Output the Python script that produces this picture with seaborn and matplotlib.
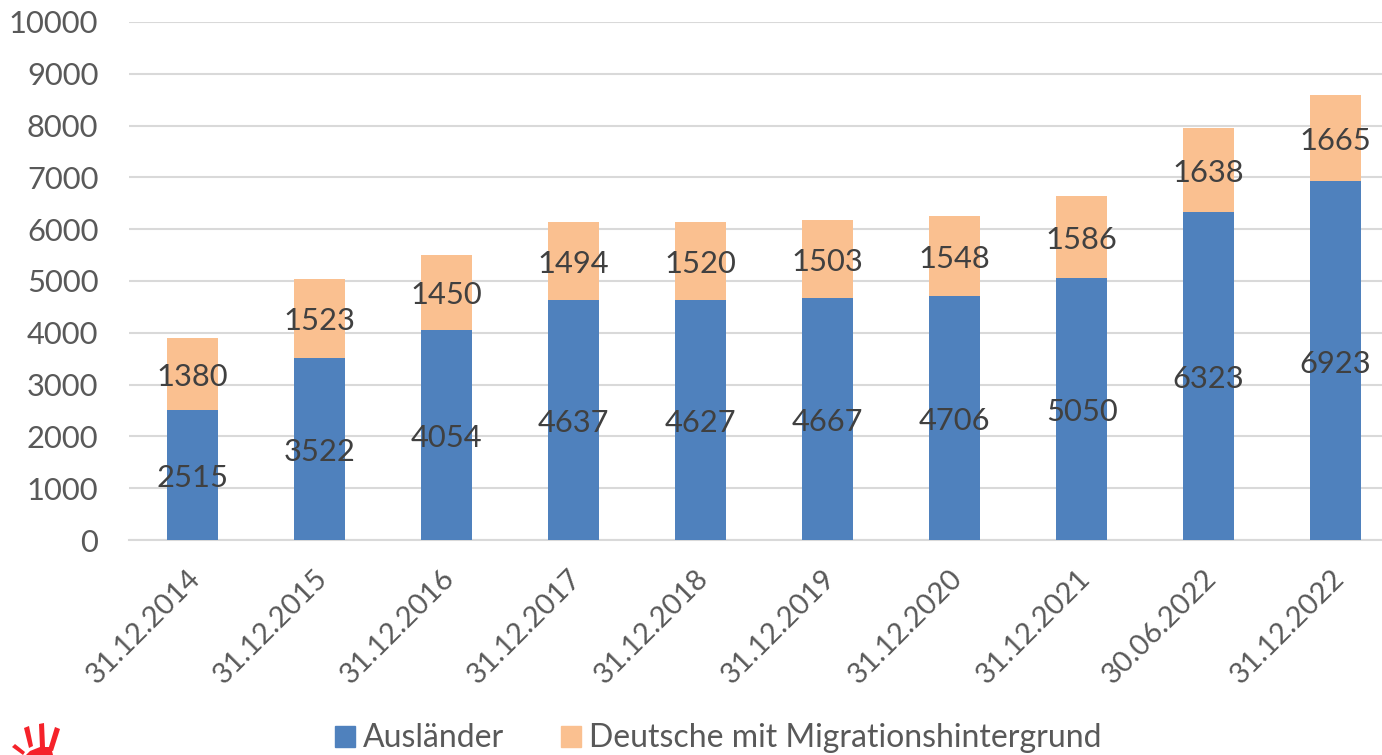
import seaborn as sns
import pandas as pd
import matplotlib.pyplot as plt
from matplotlib.patches import Patch, Polygon
from matplotlib.transforms import ScaledTranslation

daten = ["31.12.2014", "31.12.2015", "31.12.2016", "31.12.2017", "31.12.2018",
         "31.12.2019", "31.12.2020", "31.12.2021", "30.06.2022", "31.12.2022"]
auslaender = [2515, 3522, 4054, 4637, 4627, 4667, 4706, 5050, 6323, 6923]
deutsche = [1380, 1523, 1450, 1494, 1520, 1503, 1548, 1586, 1638, 1665]
y_ticks = [0, 1000, 2000, 3000, 4000, 5000, 6000, 7000, 8000, 9000, 10000]

BLAU = "#4f81bd"
ORANGE = "#fac090"
TEXT = "#404040"
GRAU = "#595959"
ROT = "#f5222a"

sns.set_theme(style="white")
plt.rcParams["font.family"] = ["Lato", "DejaVu Sans"]

df = pd.DataFrame({"Datum": daten, "Ausländer": auslaender, "Deutsche": deutsche})
df["Summe"] = df["Ausländer"] + df["Deutsche"]

fig = plt.figure(figsize=(13.82, 7.55), dpi=100)
ax = fig.add_axes([129 / 1382, 1 - 540 / 755, (1382 - 129) / 1382, (540 - 22) / 755])

# Summe hinten, Ausländer davor -> gestapelt
sns.barplot(data=df, x="Datum", y="Summe", color=ORANGE, saturation=1, width=0.4, linewidth=0, ax=ax, zorder=2)
sns.barplot(data=df, x="Datum", y="Ausländer", color=BLAU, saturation=1, width=0.4, linewidth=0, ax=ax, zorder=3)

for i in range(len(daten)):
    ax.annotate(str(auslaender[i]), (i, auslaender[i] / 2), xytext=(0, -3), textcoords="offset pixels",
                ha="center", va="center", fontsize=22.2, color=TEXT, zorder=5)
    ax.annotate(str(deutsche[i]), (i, auslaender[i] + deutsche[i] / 2), xytext=(0, -3), textcoords="offset pixels",
                ha="center", va="center", fontsize=22.2, color=TEXT, zorder=5)

ax.set_xlim(-0.5, 9.365)
ax.set_ylim(0, 10000)
ax.set_yticks(y_ticks)
ax.set_xlabel("")
ax.set_ylabel("")
ax.yaxis.grid(True, color="#d9d9d9", linewidth=1.5, zorder=0)
ax.set_axisbelow(True)
sns.despine(ax=ax, left=True, right=True, top=True)
ax.spines["bottom"].set_color("#d9d9d9")
ax.spines["bottom"].set_linewidth(1.5)
ax.tick_params(axis="y", labelsize=22.2, labelcolor=GRAU, length=0, pad=22)
ax.tick_params(axis="x", labelsize=21, labelcolor=GRAU, length=0, pad=18)
verschieben = ScaledTranslation(-5 / 100, 0, fig.dpi_scale_trans)
for lab in ax.get_xticklabels():
    lab.set_rotation(45)
    lab.set_ha("right")
    lab.set_rotation_mode("anchor")
    lab.set_transform(lab.get_transform() + verschieben)

griffe = [Patch(color=BLAU, label="Ausländer"), Patch(color=ORANGE, label="Deutsche mit Migrationshintergrund")]
fig.legend(handles=griffe, loc="lower left", bbox_to_anchor=(306 / 1382, -0.036), ncol=2, frameon=False,
           fontsize=23, labelcolor=GRAU, handlelength=0.62, handleheight=0.62, handletextpad=0.25,
           columnspacing=1.8)

# rote Hand unten links (Logo, läuft am Bildrand aus)
logo = fig.add_axes([0, 0, 70 / 1382, 40 / 755])
logo.set_xlim(0, 70)
logo.set_ylim(40, 0)
logo.axis("off")
for finger in ([(24, 13), (29, 11), (33, 31), (29, 33)],
               [(39, 9), (44, 8), (45, 32), (40, 33)],
               [(55, 12), (60, 14), (53, 36), (48, 35)],
               [(12, 32), (15, 29), (25, 37), (23, 40)]):
    logo.add_patch(Polygon(finger, closed=True, color=ROT, linewidth=0))
logo.add_patch(Polygon([(26, 40), (30, 36), (40, 32), (51, 32), (53, 40)], closed=True, color=ROT, linewidth=0))

fig.savefig("out.png", dpi=100)
